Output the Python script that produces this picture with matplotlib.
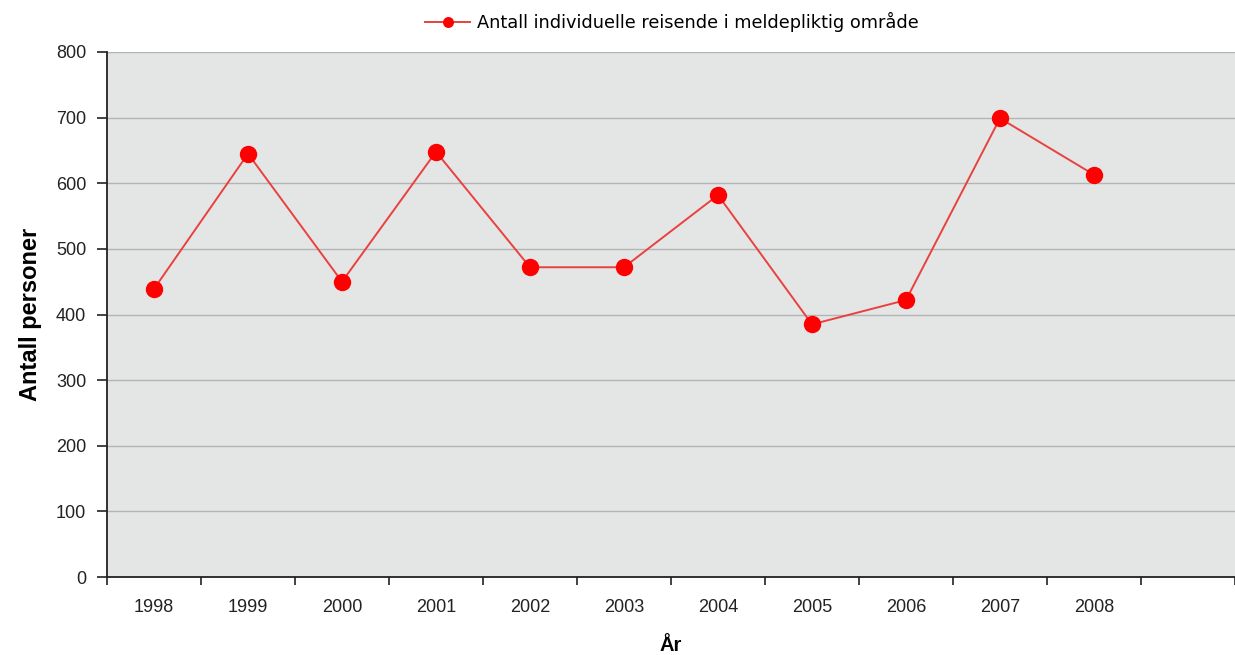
import matplotlib
matplotlib.use("Agg")
import matplotlib.pyplot as plt
from matplotlib.ticker import FixedLocator, NullFormatter

years = ["1998", "1999", "2000", "2001", "2002", "2003", "2004", "2005", "2006", "2007", "2008"]
values = [439, 645, 450, 648, 472, 472, 582, 385, 422, 699, 613]
n_slots = 12
y_ticks = [0, 100, 200, 300, 400, 500, 600, 700, 800]
series_name = "Antall individuelle reisende i meldepliktig område"

fig = plt.figure(figsize=(12.35, 6.55), dpi=100)
ax = fig.add_axes([107/1235, 78/655, 1 - 107/1235, (577-52)/655])
ax.set_facecolor("#e4e5e5")

x = list(range(len(years)))
line, = ax.plot(x, values, color="#e8413f", linewidth=1.4, marker="o",
                markersize=11.5, markerfacecolor="#ff0000", markeredgecolor="#ff0000",
                zorder=3, label=series_name)

ax.set_xlim(-0.5, n_slots - 0.5)
ax.set_ylim(0, 800)

ax.yaxis.set_major_locator(FixedLocator(y_ticks))
ax.set_yticklabels([str(v) for v in y_ticks], fontfamily="Liberation Sans", fontsize=13, color="#222222")
ax.tick_params(axis="y", direction="out", length=7, width=1.2, pad=8, color="#222222")

ax.xaxis.set_major_locator(FixedLocator([i + 0.5 for i in range(-1, n_slots)]))
ax.xaxis.set_major_formatter(NullFormatter())
ax.xaxis.set_minor_locator(FixedLocator(x))
ax.set_xticklabels(years, minor=True, fontfamily="Liberation Sans", fontsize=13, color="#222222")
ax.tick_params(axis="x", which="major", direction="out", length=6, width=1.2, color="#222222")
ax.tick_params(axis="x", which="minor", length=0, pad=16)

ax.grid(axis="y", color="#b4b4b4", linewidth=1.0, zorder=1)
ax.set_axisbelow(True)

for s in ["top", "right"]:
    ax.spines[s].set_visible(False)
ax.spines["left"].set_linewidth(1.3)
ax.spines["bottom"].set_linewidth(1.3)
ax.spines["left"].set_color("#222222")
ax.spines["bottom"].set_color("#222222")

ax.set_ylabel("Antall personer", fontfamily="Liberation Sans", fontsize=17, fontweight="bold", labelpad=10)
ax.set_xlabel("År", fontfamily="Liberation Sans", fontsize=14.5, fontweight="bold", labelpad=14)

fig.legend(handles=[line], loc="center", bbox_to_anchor=(672/1235, 1 - 22/655), frameon=False,
           prop={"family": "DejaVu Sans", "size": 12.8}, handlelength=2.5, markerscale=0.6,
           handletextpad=0.4)

fig.savefig("out.png", dpi=100, facecolor="white")
